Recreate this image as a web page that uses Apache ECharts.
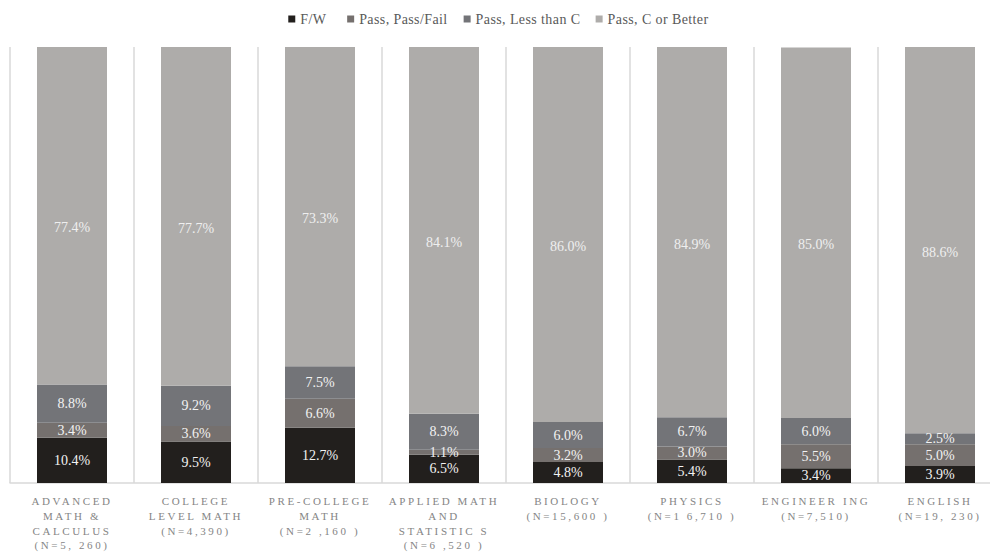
<!DOCTYPE html>
<html>
<head>
<meta charset="utf-8">
<script src="https://cdn.jsdelivr.net/npm/echarts@6/dist/echarts.min.js"></script>
<style>
html,body{margin:0;padding:0;background:#fff;overflow:hidden;}
#chart{width:990px;height:554px;overflow:hidden;}
#chart text{font-family:'Liberation Serif' !important;}
#chart text[fill="#858585"], #chart text[fill="rgb(133,133,133)"]{letter-spacing:2.6px;}
#chart text[fill="#595959"], #chart text[fill="rgb(89,89,89)"]{letter-spacing:0.4px;}
</style>
</head>
<body>
<div id="chart"></div>
<script>
const categories = [
  "ADVANCED\nMATH &\nCALCULUS\n(N=5, 260)",
  "COLLEGE\nLEVEL MATH\n(N=4,390)",
  "PRE-COLLEGE\nMATH\n(N=2 ,160 )",
  "APPLIED MATH\nAND\nSTATISTIC S\n(N=6 ,520 )",
  "BIOLOGY\n(N=15,600 )",
  "PHYSICS\n(N=1 6,710 )",
  "ENGINEER ING\n(N=7,510)",
  "ENGLISH\n(N=19, 230)"
];
const seriesNames = ["F/W", "Pass, Pass/Fail", "Pass, Less than C", "Pass, C or Better"];
const fw =        [10.4, 9.5, 12.7, 6.5, 4.8, 5.4, 3.4, 3.9];
const passFail =  [3.4, 3.6, 6.6, 1.1, 3.2, 3.0, 5.5, 5.0];
const lessThanC = [8.8, 9.2, 7.5, 8.3, 6.0, 6.7, 6.0, 2.5];
const cOrBetter = [77.4, 77.7, 73.3, 84.1, 86.0, 84.9, 85.0, 88.6];

const colors = ["#221f1d", "#75706e", "#737478", "#aeacaa"];
const serif = "Liberation Serif";
const values = [fw, passFail, lessThanC, cOrBetter];

const chart = echarts.init(document.getElementById('chart'), null, {renderer: 'svg'});
chart.setOption({
  animation: false,
  color: colors,
  legend: {
    top: 7,
    left: 'center',
    itemWidth: 7,
    itemHeight: 7,
    itemGap: 22,
    icon: 'rect',
    textStyle: {fontFamily: serif, fontSize: 14, color: '#595959'},
    data: seriesNames
  },
  grid: {left: 10, width: 992, top: 47, bottom: 71, containLabel: false, outerBoundsMode: 'none'},
  xAxis: {
    type: 'category',
    data: categories,
    axisLine: {lineStyle: {color: '#d9d9d9', width: 1.5}},
    axisTick: {show: false},
    splitLine: {show: true, lineStyle: {color: '#d9d9d9', width: 1.5}},
    axisLabel: {
      interval: 0,
      margin: 11,
      fontFamily: serif,
      fontSize: 11,
      lineHeight: 14.7,
      color: '#858585'
    }
  },
  yAxis: {
    type: 'value', min: 0, max: 100, show: false,
    splitLine: {show: false}
  },
  series: seriesNames.map((name, i) => ({
    name: name,
    type: 'bar',
    stack: 'total',
    barWidth: 70,
    data: values[i],
    itemStyle: {color: colors[i]},
    label: {
      show: true,
      position: 'inside',
      offset: i === 3 ? [0, 12] : [0, 0],
      formatter: p => p.value.toFixed(1) + '%',
      fontFamily: serif,
      fontSize: 14,
      color: i === 3 ? '#efefef' : '#f2f2f2'
    }
  }))
});
</script>
</body>
</html>
